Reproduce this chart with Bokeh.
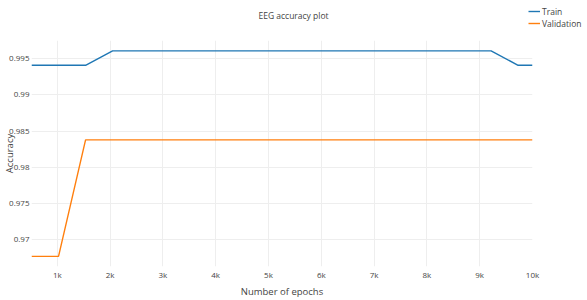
from bokeh.plotting import figure
from bokeh.layouts import column
from bokeh.models import Range1d, Legend, LegendItem, FixedTicker, CustomJSTickFormatter, Label
from bokeh.embed import file_html
from bokeh.resources import INLINE

# ---- data ----
epochs = [512, 1024, 1536, 2048, 2560, 3072, 3584, 4096, 4608, 5120,
          5632, 6144, 6656, 7168, 7680, 8192, 8704, 9216, 9728, 10000]
train_acc = [0.9941, 0.9941, 0.9941, 0.9961, 0.9961, 0.9961, 0.9961, 0.9961, 0.9961, 0.9961,
             0.9961, 0.9961, 0.9961, 0.9961, 0.9961, 0.9961, 0.9961, 0.9961, 0.9941, 0.9941]
val_acc = [0.9677, 0.9677, 0.9838, 0.9838, 0.9838, 0.9838, 0.9838, 0.9838, 0.9838, 0.9838,
           0.9838, 0.9838, 0.9838, 0.9838, 0.9838, 0.9838, 0.9838, 0.9838, 0.9838, 0.9838]
x_ticks = [1000, 2000, 3000, 4000, 5000, 6000, 7000, 8000, 9000, 10000]
y_ticks = [0.97, 0.975, 0.98, 0.985, 0.99, 0.995]
series_names = ["Train", "Validation"]
series_colors = ["#1f77b4", "#ff7f0e"]
title_text = "EEG accuracy plot"

FONT = "Open Sans"
TXT = "#444444"

# ---- header strip: title + legend ----
head = figure(width=587, height=40, output_backend="svg", toolbar_location=None,
              x_axis_type=None, y_axis_type=None,
              x_range=Range1d(0, 1), y_range=Range1d(0, 1),
              min_border=0, min_border_left=0, min_border_right=0,
              min_border_top=0, min_border_bottom=0)
head.frame_align = False
head.outline_line_color = None
head.background_fill_color = "white"
head.border_fill_color = "white"
h1 = head.line(epochs, train_acc, line_color=series_colors[0], line_width=1.4, visible=False)
h2 = head.line(epochs, val_acc, line_color=series_colors[1], line_width=1.4, visible=False)

head.add_layout(Label(x=293, y=25, x_units="screen", y_units="screen", text=title_text,
                      text_font=FONT, text_font_size="8.5px", text_color=TXT,
                      text_align="center", text_baseline="middle"))

legend = Legend(items=[LegendItem(label=series_names[0], renderers=[h1]),
                       LegendItem(label=series_names[1], renderers=[h2])],
                location=(528, 11), padding=0, margin=0, spacing=0,
                glyph_width=12, glyph_height=12, label_height=12, label_standoff=2,
                label_text_font=FONT, label_text_font_size="8.5px", label_text_color=TXT,
                border_line_color=None, background_fill_alpha=0,
                inactive_fill_alpha=0, click_policy="none")
head.add_layout(legend, "center")

# ---- main chart ----
p = figure(width=587, height=260, output_backend="svg", toolbar_location=None,
           x_range=Range1d(512, 10000), y_range=Range1d(0.96630, 0.99753),
           min_border_left=31, min_border_right=55, min_border_top=0, min_border_bottom=32)
p.frame_align = False
p.outline_line_color = None
p.background_fill_color = "white"
p.border_fill_color = "white"

p.line(epochs, train_acc, line_color=series_colors[0], line_width=1.4)
p.line(epochs, val_acc, line_color=series_colors[1], line_width=1.4)

for ax in (p.xaxis[0], p.yaxis[0]):
    ax.axis_line_color = None
    ax.major_tick_line_color = None
    ax.minor_tick_line_color = None
    ax.major_tick_out = 0
    ax.major_tick_in = 0
    ax.minor_tick_out = 0
    ax.minor_tick_in = 0
    ax.major_label_text_font = FONT
    ax.major_label_text_font_size = "8px"
    ax.major_label_text_color = TXT
    ax.major_label_standoff = 2
    ax.axis_label_text_font = FONT
    ax.axis_label_text_font_size = "9.5px"
    ax.axis_label_text_font_style = "normal"
    ax.axis_label_text_color = TXT

p.xaxis.axis_label = "Number of epochs"
p.xaxis.axis_label_standoff = 2
p.yaxis.axis_label = "Accuracy"
p.yaxis.axis_label_standoff = -10

p.xaxis.ticker = FixedTicker(ticks=x_ticks)
p.xaxis.formatter = CustomJSTickFormatter(code="return (tick/1000) + 'k';")
p.yaxis.ticker = FixedTicker(ticks=y_ticks)
p.yaxis.formatter = CustomJSTickFormatter(code="return String(Math.round(tick*1000)/1000);")

p.xgrid.ticker = FixedTicker(ticks=x_ticks)
p.ygrid.ticker = FixedTicker(ticks=y_ticks)
p.xgrid.grid_line_color = "#eeeeee"
p.ygrid.grid_line_color = "#eeeeee"

layout = column(head, p, spacing=0)
open("out.html", "w").write(file_html(layout, INLINE))
